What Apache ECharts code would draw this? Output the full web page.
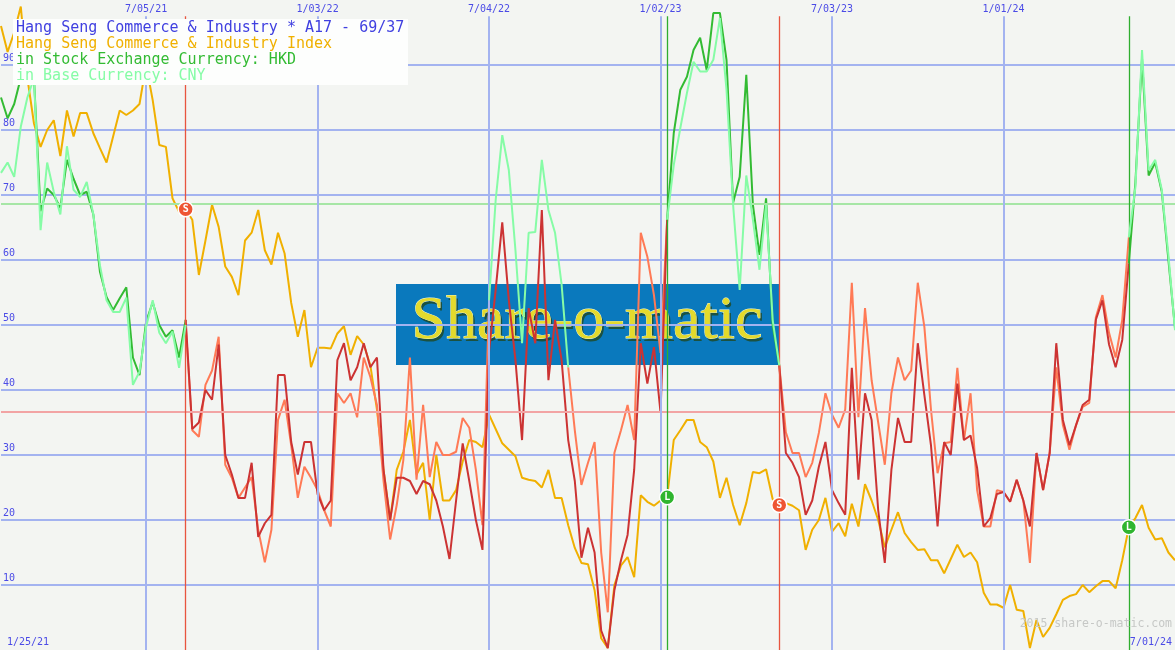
<!DOCTYPE html>
<html><head><meta charset="utf-8">
<script src="https://cdn.jsdelivr.net/npm/echarts/dist/echarts.min.js"></script>
<style>html,body{margin:0;padding:0;background:#f3f5f2;overflow:hidden}#c{width:1175px;height:650px}</style>
</head><body><div id="c"></div>
<script>
// ---------- data ----------
const titleLines = ['Hang Seng Commerce & Industry * A17 - 69/37','Hang Seng Commerce & Industry Index','in Stock Exchange Currency: HKD','in Base Currency: CNY'];
const firstWeekLabel = '1/25/21';
const lastWeekLabel = '7/01/24';
const xTickWeeks = [23, 49, 75, 101, 127, 153];
const xTickLabels = ['7/05/21','1/03/22','7/04/22','1/02/23','7/03/23','1/01/24'];
const buyLevel = 68.7;
const sellLevel = 36.7;
const signalWeeks = [29, 102, 119, 172];
const signalTypes = ['S', 'L', 'S', 'L'];
const cnyExtraLong = [[75, 87]];

const indexValues = [
 96,92,95,99,88,81,77.4,80,81.5,76,
 83,79,82.6,82.6,79.5,77.2,75,79,83,82.3,
 83,84,90,84.6,77.7,77.4,69.5,67.4,67.8,66.2,
 57.7,63,68.5,65.1,59,57.4,54.6,63,64.2,67.7,
 61.5,59.3,64.2,61,53.4,48.2,52.3,43.5,46.5,46.5,
 46.4,48.7,49.8,45.4,48.3,47,43.8,37,27.7,20,
 27.7,30.5,35.4,27,28.8,20,30,23,23,24.6,
 29,32.3,32,31.2,36.2,34,31.8,30.8,29.8,26.5,
 26.2,26,25,27.7,23.4,23.4,19.2,15.7,13.4,13.2,
 9.2,1.8,0.3,10,13,14.3,11.2,23.8,22.8,22.2,
 23,23.5,32.3,33.8,35.4,35.4,32,31.2,29,23.4,
 26.5,22.3,19.2,22.6,27.4,27.2,27.8,23.2,22.3,22.6,
 22.2,21.5,15.4,18.5,20,23.4,18.2,19.5,17.5,22.5,
 19,25.5,23,20,15.8,18.5,21.2,18,16.6,15.4,
 15.5,13.8,13.8,11.8,14,16.2,14.3,15,13.5,8.8,
 7,7,6.5,10,6.2,6,0.3,4.6,2,3.4,
 5.5,7.7,8.3,8.6,10,8.9,9.8,10.6,10.6,9.5,
 13.8,18.9,20.3,22.3,18.8,17,17.2,15,13.8
];
const hkdValues = [
 85,81.8,84,88,92,88,67.5,71,70,68,
 75.4,72.5,70,70.5,67,58.2,54.3,52.3,54.1,55.8,
 45,42.3,50.5,53.5,50,48.2,49.2,45,50.8,34,
 35,40,38.5,47,30,27,23.4,23.4,28.8,17.4,
 19.5,20.8,42.3,42.3,32,27,32,32,24,21.5,
 23,44.6,47.2,41.5,43.5,47.2,43.5,45,27.7,20,
 26.5,26.5,26,24,26,25.5,23,19,14,23,
 31.8,26,20,15.4,46,55.4,65.8,53.8,44.6,32.3,
 52.6,47.2,67.7,41.5,50.8,44.6,32.3,26,14.2,18.8,
 15,3,0.3,9.2,13.8,17.7,27.7,47.2,41,46.6,
 36.5,66.2,79.5,86.2,88.2,92.3,94.2,89.2,98,98,
 90.8,68.8,72.8,88.5,68.5,60.8,69.5,50,43.8,30.3,
 28.8,26.6,20.8,23,28.2,32,24.6,22.6,20.8,43.4,
 26.2,39.5,35.4,21.5,13.4,27.7,35.7,32,32,47.2,
 39.2,31.5,19,32,30,41,32.3,33,28,19,
 20.3,24,24.3,22.8,26.2,23,19,30.3,24.6,30.3,
 47.2,35.4,31.5,34.6,37.7,38.5,50.8,53.8,47,43.5,
 47.7,59.5,72,91,73,75,70.5,60,49.5
];
const cnyValues = [
 73.4,75,72.8,80.5,85,88,64.6,75,70.5,67,
 77.5,70.8,69.7,72,67,59.2,53.8,52,52,54.2,
 40.8,42.8,49.7,53.8,48.8,47.2,49,43.4,50,33.8,
 32.8,40.8,43,48.2,28.5,26.5,23.4,25,26.6,18.5,
 13.5,18.5,35.4,38.5,31.5,23.4,28.2,26.5,24.6,21.5,
 19,39.5,38,39.5,35.8,45,42,37.7,26,17,
 22.3,29.2,45,26.2,37.7,26.6,32,30,30,30.5,
 35.7,34.2,27.7,19.2,53.8,69.2,79.2,73.8,61.5,47.2,
 64.2,64.3,75.4,67.7,64.2,56.2,43.5,33.8,25.4,28.8,
 32,15,5.8,30.3,33.8,37.7,32.3,64.2,60.5,54.6,
 45.7,66.2,74.6,80.3,85.7,90.5,89,89,90.8,97.2,
 86.2,68.5,55.4,73,66.2,58.5,68.5,50.8,43.8,33.5,
 30.3,30.3,26.6,28.8,33.4,39.5,36.2,34.2,37,56.5,
 35.8,52.6,41.5,35,28.5,39.5,45,41.5,43,56.5,
 49.7,37,27.2,31.8,32,43.4,32.3,39.5,24.6,19,
 19,24.6,24.3,22.8,26.2,23,13.4,30.3,24.6,30.3,
 43.5,34.6,30.8,34.6,37.4,38,51.2,54.6,48.8,45,
 50.8,63.5,71.2,92.3,73.8,75.4,70.8,60.8,49.2
];

// ---------- helpers ----------
const N = indexValues.length;
function isLong(w){ let st = true; signalWeeks.forEach((s,i)=>{ if (w >= s) st = signalTypes[i] === 'L'; }); return st; }
function cnyLong(w){ return isLong(w) || cnyExtraLong.some(r => w >= r[0] && w < r[1]); }
function runs(values, fn){
  const out = []; let cur = null;
  for (let w = 1; w < values.length; w++){
    const st = fn(w);
    if (!cur || cur.long !== st){ cur = {long: st, pts: [[w, values[w-1]]]}; out.push(cur); }
    cur.pts.push([w+1, values[w]]);
  }
  return out;
}
const BLUE = '#4b4be6', GRID = '#a3b3f0', MONO = 'DejaVu Sans Mono';
function lineSeries(name, pts, color, z){
  return {name, type:'line', data: pts, showSymbol:false, symbol:'none', z, silent:true,
    lineStyle:{color, width:2}, itemStyle:{color}, animation:false};
}
const series = [];
const vGrid = xTickWeeks.map((w,i)=>[
  {coord:[w,0], lineStyle:{color:GRID,width:2,type:'solid'}},
  {coord:[w,97.5], label:{show:true, position:'end', distance:2, formatter: xTickLabels[i], color:BLUE, fontFamily:MONO, fontSize:10}}
]);
const sigLines = signalWeeks.map((w,i)=>{
  const c = signalTypes[i]==='S' ? '#e8553f' : '#2fae2f';
  return [
    {coord:[w,0], lineStyle:{color:c, width:1.3, type:'solid', opacity:1}, itemStyle:{color:c}},
    {coord:[w,97.5], lineStyle:{color:c}, itemStyle:{color:c}}
  ];
});
series.push({type:'line', data:[], z:1, silent:true, animation:false,
  markLine:{silent:true, symbol:['none','none'], animation:false, label:{show:false},
    data: [
      {yAxis: buyLevel, lineStyle:{color:'#a6e6a6', width:2, type:'solid'}},
      {yAxis: sellLevel, lineStyle:{color:'#f2a4a4', width:2, type:'solid'}},
      ...vGrid, ...sigLines
    ]}
});
series.push(lineSeries('Index', indexValues.map((v,i)=>[i+1,v]), '#f0b000', 2));
runs(cnyValues, cnyLong).forEach(r => series.push(lineSeries('CNY', r.pts, r.long ? '#86fca6' : '#ff7a56', r.long ? 5 : 3)));
runs(hkdValues, isLong).forEach(r => series.push(lineSeries('HKD', r.pts, r.long ? '#33bb33' : '#cc3333', 4)));
series.push({type:'line', data:[], z:10, silent:true, animation:false,
  markPoint:{silent:true, animation:false, symbol:'circle', symbolSize:15,
    data: signalWeeks.map((w,i)=>({coord:[w, indexValues[w-1]],
      itemStyle:{color: signalTypes[i]==='S' ? '#ee5533' : '#2fb52f', borderColor:'#ffffff', borderWidth:1.5},
      label:{show:true, position:'inside', formatter: signalTypes[i], color:'#ffffff', fontSize:10, fontWeight:'bold', fontFamily:MONO}}))}
});

const chart = echarts.init(document.getElementById('c'), null, {renderer:'canvas'});
chart.setOption({
  backgroundColor:'#f3f5f2',
  animation:false,
  grid:{left:0, right:0, top:0, bottom:0},
  xAxis:{type:'value', min:1, max:N, show:true, axisLine:{show:false}, axisTick:{show:false}, axisLabel:{show:false}, splitLine:{show:false}},
  yAxis:{type:'value', min:0, max:100, interval:10, axisLine:{show:false}, axisTick:{show:false},
    axisLabel:{inside:true, margin:2, color:BLUE, fontFamily:MONO, fontSize:10, verticalAlign:'bottom', padding:[0,0,2,0],
      formatter: v => (v > 0 && v < 100) ? String(v) : ''},
    splitLine:{show:true, lineStyle:{width:2, color:['rgba(0,0,0,0)',GRID,GRID,GRID,GRID,GRID,GRID,GRID,GRID,GRID,'rgba(0,0,0,0)']}}},
  series,
  graphic:[
    {type:'rect', z:-5, silent:true, shape:{x:396, y:284, width:383, height:81}, style:{fill:'#0a79bd'}},
    {type:'text', z:-4, silent:true, x:589, y:325, style:{text:'Share-o-matic', font:'62px "Liberation Serif"', align:'center', verticalAlign:'middle',
      fill:'#24420c', opacity:0.7}},
    {type:'text', z:-3, silent:true, x:587, y:322, style:{text:'Share-o-matic', font:'62px "Liberation Serif"', align:'center', verticalAlign:'middle',
      fill:'#e4da2c', stroke:'#fbfbd0', lineWidth:0.8}},
    {type:'rect', z:100, silent:true, shape:{x:13, y:19, width:395, height:66}, style:{fill:'#fdfefd'}},
    {type:'text', z:101, silent:true, x:16, y:28, style:{text:titleLines[0], font:'15px "DejaVu Sans Mono"', fill:'#4040e0', verticalAlign:'middle'}},
    {type:'text', z:101, silent:true, x:16, y:44, style:{text:titleLines[1], font:'15px "DejaVu Sans Mono"', fill:'#f0b000', verticalAlign:'middle'}},
    {type:'text', z:101, silent:true, x:16, y:60, style:{text:titleLines[2], font:'15px "DejaVu Sans Mono"', fill:'#33bb33', verticalAlign:'middle'}},
    {type:'text', z:101, silent:true, x:16, y:76, style:{text:titleLines[3], font:'15px "DejaVu Sans Mono"', fill:'#86fca6', verticalAlign:'middle'}},
    {type:'text', z:101, silent:true, x:7, y:642, style:{text:firstWeekLabel, font:'10px "DejaVu Sans Mono"', fill:BLUE, verticalAlign:'middle'}},
    {type:'text', z:101, silent:true, x:1172, y:642, style:{text:lastWeekLabel, font:'10px "DejaVu Sans Mono"', fill:BLUE, align:'right', verticalAlign:'middle'}},
    {type:'text', z:101, silent:true, x:1172, y:624, style:{text:'2015 share-o-matic.com', font:'11.5px "DejaVu Sans Mono"', fill:'#c6c8c6', align:'right', verticalAlign:'middle'}}
  ]
});
</script></body></html>
